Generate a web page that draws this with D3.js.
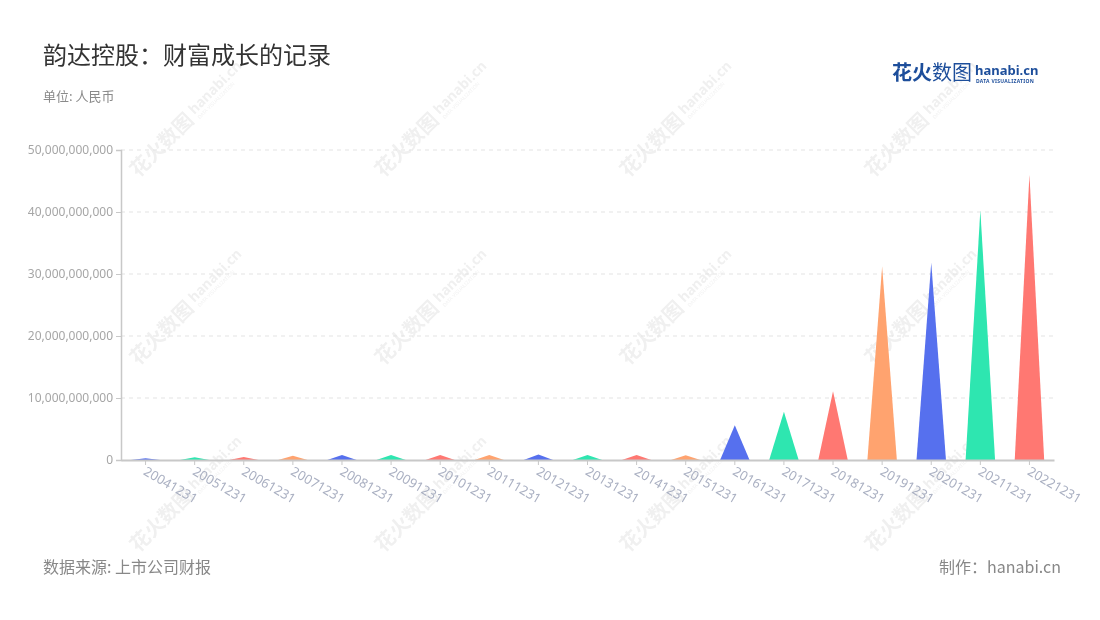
<!DOCTYPE html>
<html><head><meta charset="utf-8">
<script src="https://cdn.jsdelivr.net/npm/d3@7"></script>
<style>
body{margin:0;background:#fff;}
svg{display:block;font-family:"Noto Sans","Noto Sans CJK SC",sans-serif;}
</style></head>
<body><svg id="chart" width="1100" height="620"></svg>
<script>
const categories = ["20041231","20051231","20061231","20071231","20081231","20091231","20101231","20111231","20121231","20131231","20141231","20151231","20161231","20171231","20181231","20191231","20201231","20211231","20221231"];
const values = [0.3e9,0.45e9,0.5e9,0.7e9,0.8e9,0.8e9,0.8e9,0.8e9,0.9e9,0.8e9,0.8e9,0.75e9,5.6e9,7.8e9,11.1e9,31.2e9,31.8e9,40.3e9,46.0e9];
const yTicks = [0,10e9,20e9,30e9,40e9,50e9];
const palette = ["#5670ee","#2ee6b0","#ff7872","#ffa36f"];
const title = "韵达控股：财富成长的记录";
const subtitle = "单位: 人民币";
const source = "数据来源: 上市公司财报";
const credit = "制作：hanabi.cn";

const svg = d3.select("#chart");
const margin = {left:121, right:1054, top:150, bottom:460};

// watermarks
const wmX = [185,430,675,920], wmY = [120,308,495];
const wm = svg.append("g").attr("opacity",0.07);
wmX.forEach(x=>wmY.forEach(y=>{
  const g = wm.append("g").attr("transform",`translate(${x},${y}) rotate(-45)`);
  g.append("text").attr("x",-74).attr("y",8).attr("font-size",20).attr("font-weight",700).attr("fill","#222").attr("font-family","Noto Sans CJK SC").text("花火数图");
  g.append("text").attr("x",10).attr("y",3).attr("font-size",14).attr("font-weight",700).attr("fill","#222").text("hanabi.cn");
  g.append("text").attr("x",11).attr("y",10).attr("font-size",5).attr("fill","#222").text("DATA VISUALIZATION");
}));

const x = d3.scaleBand().domain(categories).range([margin.left, margin.right]).padding(0);
const y = d3.scaleLinear().domain([0,50e9]).range([margin.bottom, margin.top]);

// grid
svg.append("g").selectAll("line").data(yTicks.filter(d=>d>0)).join("line")
  .attr("x1",margin.left).attr("x2",margin.right)
  .attr("y1",d=>y(d)).attr("y2",d=>y(d))
  .attr("stroke","#e3e3e3").attr("stroke-dasharray","4,4");

// triangles
const bw = x.bandwidth()*0.6;
svg.append("g").selectAll("path").data(values).join("path")
  .attr("d",(d,i)=>{
    const cx = x(categories[i]) + x.bandwidth()/2;
    return `M${cx-bw/2},${y(0)}L${cx},${y(d)}L${cx+bw/2},${y(0)}Z`;
  })
  .attr("fill",(d,i)=>palette[i%4]);

// y axis
const yAxis = svg.append("g").attr("transform",`translate(${margin.left},0)`)
  .call(d3.axisLeft(y).tickValues(yTicks).tickFormat(d3.format(",")).tickSize(5).tickPadding(3));
yAxis.select(".domain").attr("stroke","#c8c8c8").attr("stroke-width",1.5);
yAxis.selectAll(".tick line").attr("stroke","#c8c8c8");
yAxis.selectAll("text").attr("fill","#a6a6a6").attr("font-size",12).attr("font-family","Noto Sans");

// x axis
const xAxis = svg.append("g").attr("transform",`translate(0,${margin.bottom})`)
  .call(d3.axisBottom(x).tickSize(5).tickSizeOuter(0).tickPadding(0));
xAxis.select(".domain").attr("stroke","#c8c8c8").attr("stroke-width",2);
xAxis.selectAll(".tick line").attr("stroke","#c8c8c8");
xAxis.selectAll("text").attr("fill","#aab0c2").attr("font-size",13).attr("font-family","Noto Sans")
  .attr("text-anchor","start").attr("dy",null).attr("y",0)
  .attr("transform","translate(-3,14) rotate(30)");

// titles
svg.append("text").attr("x",43).attr("y",64).attr("font-size",24).attr("fill","#333").attr("font-family","Noto Sans CJK SC").text(title);
svg.append("text").attr("x",43).attr("y",101).attr("font-size",13).attr("fill","#8a8a8a").attr("font-family","Noto Sans CJK SC").text(subtitle);
svg.append("text").attr("x",43).attr("y",573).attr("font-size",16).attr("fill","#888").attr("font-family","Noto Sans CJK SC").text(source);
svg.append("text").attr("x",1061).attr("y",573).attr("text-anchor","end").attr("font-size",16).attr("fill","#888").attr("font-family","Noto Sans CJK SC").text(credit);

// logo
const logo = svg.append("g");
logo.append("text").attr("x",892).attr("y",80).attr("font-size",20).attr("font-weight",700).attr("fill","#1d4e9b").attr("font-family","Noto Sans CJK SC").text("花火");
logo.append("text").attr("x",932).attr("y",80).attr("font-size",20).attr("fill","#1d4e9b").attr("font-family","Noto Sans CJK SC").text("数图");
logo.append("text").attr("x",975).attr("y",75).attr("font-size",13).attr("font-weight",700).attr("fill","#1d4e9b").attr("font-family","Noto Sans").text("hanabi.cn");
logo.append("text").attr("x",976).attr("y",83).attr("font-size",5).attr("font-weight",700).attr("fill","#1d4e9b").attr("letter-spacing",0.3).text("DATA VISUALIZATION");
</script></body></html>
